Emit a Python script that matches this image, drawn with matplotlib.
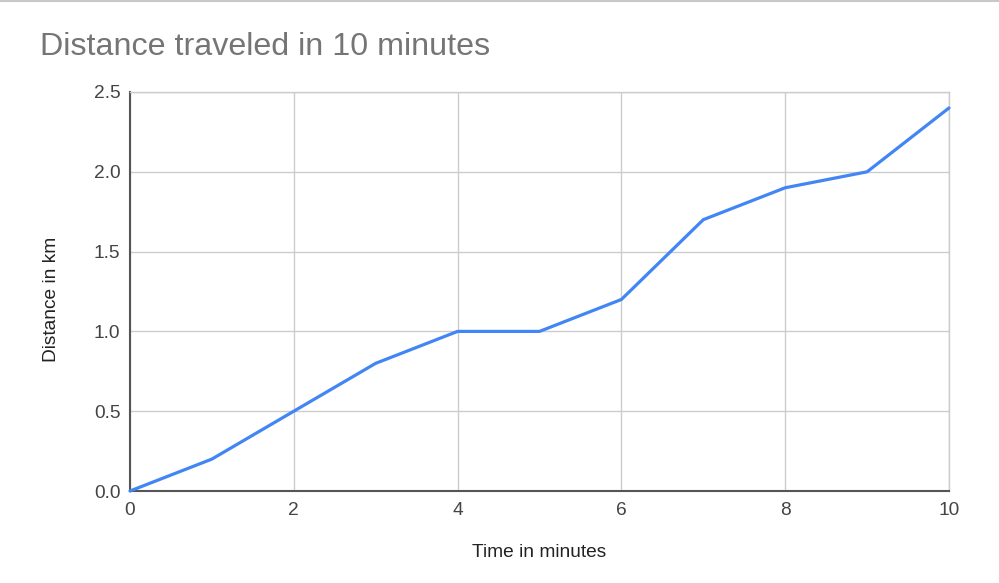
import matplotlib
matplotlib.use("Agg")
import matplotlib.pyplot as plt
from matplotlib.lines import Line2D

minutes = [0, 1, 2, 3, 4, 5, 6, 7, 8, 9, 10]
distance_km = [0.0, 0.2, 0.5, 0.8, 1.0, 1.0, 1.2, 1.7, 1.9, 2.0, 2.4]
x_ticks = [0, 2, 4, 6, 8, 10]
y_ticks = [0.0, 0.5, 1.0, 1.5, 2.0, 2.5]
y_tick_labels = ["0.0", "0.5", "1.0", "1.5", "2.0", "2.5"]

plt.rcParams['font.family'] = ['Liberation Sans', 'DejaVu Sans']

W, H = 999, 583
fig = plt.figure(figsize=(W / 100, H / 100), dpi=100)
L, R, T, B = 130, 949, 92, 491
ax = fig.add_axes([L / W, 1 - B / H, (R - L) / W, (B - T) / H])

ax.plot(minutes, distance_km, color='#4285F4', lw=2.3, solid_capstyle='round', zorder=3, clip_on=False)

ax.set_xlim(0, 10)
ax.set_ylim(0, 2.5)
ax.set_xticks(x_ticks)
ax.set_yticks(y_ticks)
ax.set_yticklabels(y_tick_labels)
ax.grid(True, color='#cccccc', lw=1.0, zorder=0)
ax.set_axisbelow(True)
for s in ['top', 'right']:
    ax.spines[s].set_color('#cccccc')
    ax.spines[s].set_linewidth(1.0)
for s in ['left', 'bottom']:
    ax.spines[s].set_color('#555555')
    ax.spines[s].set_linewidth(1.5)
ax.tick_params(axis='both', length=0, labelsize=13.8, labelcolor='#444444')
ax.tick_params(axis='x', pad=8)
ax.tick_params(axis='y', pad=7)

ax.set_xlabel('Time in minutes', fontsize=13.8, color='#222222', labelpad=18)
ax.set_ylabel('Distance in km', fontsize=13.8, color='#222222')
ax.yaxis.set_label_coords(-0.086, 0.48)

fig.text(40 / W, 1 - 55 / H, 'Distance traveled in 10 minutes', fontsize=23.2,
         color='#757575', ha='left', va='baseline')

fig.add_artist(Line2D([0, 1], [1 - 0.5 / H, 1 - 0.5 / H], transform=fig.transFigure,
                      color='#c8c8c8', lw=1.5))

fig.savefig('out.png', dpi=100, facecolor='white')
